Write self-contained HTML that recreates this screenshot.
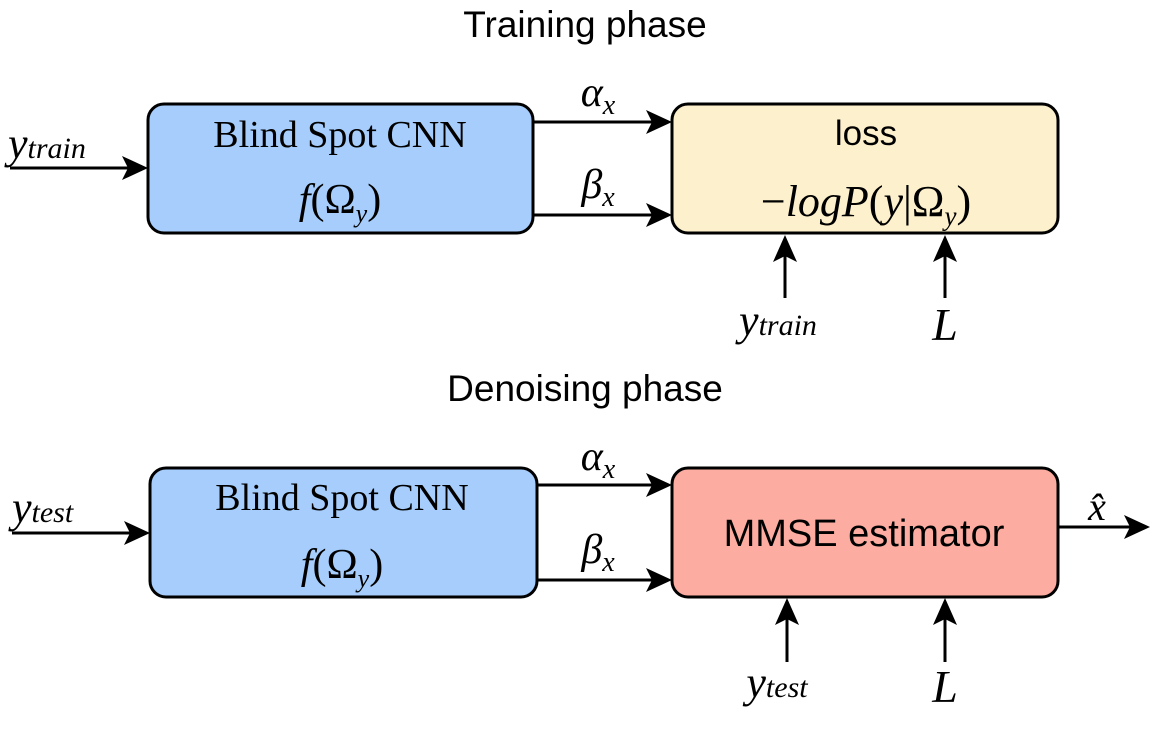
<!DOCTYPE html>
<html><head><meta charset="utf-8"><style>
html,body{margin:0;padding:0;background:#fff;}
svg{display:block}
.s{font-family:"Liberation Sans",sans-serif;}
.r{font-family:"Liberation Serif",serif;}
.m{font-family:"Liberation Serif",serif;font-style:italic;}
</style></head><body>
<svg width="1165" height="750" viewBox="0 0 1165 750" xmlns="http://www.w3.org/2000/svg">
<g stroke="#000" stroke-width="3" fill="none">
<rect x="148" y="104" width="385" height="129" rx="16" fill="#a6cdfb"/>
<rect x="672" y="104" width="386" height="129" rx="16" fill="#fdf0cc"/>
<line x1="10" y1="168" x2="130" y2="168"/>
<line x1="533" y1="122" x2="656" y2="122"/>
<line x1="533" y1="215" x2="656" y2="215"/>
<line x1="785" y1="298" x2="785" y2="250"/>
<line x1="945" y1="298" x2="945" y2="250"/>
<rect x="150" y="468" width="387" height="129" rx="16" fill="#a6cdfb"/>
<rect x="672" y="468" width="386" height="129" rx="16" fill="#fcaca0"/>
<line x1="12" y1="533" x2="134" y2="533"/>
<line x1="537" y1="485" x2="656" y2="485"/>
<line x1="537" y1="580" x2="656" y2="580"/>
<line x1="1058" y1="527" x2="1132" y2="527"/>
<line x1="787" y1="662" x2="787" y2="615"/>
<line x1="945" y1="662" x2="945" y2="615"/>
</g>
<g fill="#000">
<polygon points="148,168 122,156 128,168 122,180"/>
<polygon points="672,122 646,110 652,122 646,134"/>
<polygon points="672,215 646,203 652,215 646,227"/>
<polygon points="785,235 773,262 785,256 797,262"/>
<polygon points="945,235 933,262 945,256 957,262"/>
<polygon points="150,533 124,521 130,533 124,545"/>
<polygon points="672,485 646,473 652,485 646,497"/>
<polygon points="672,580 646,568 652,580 646,592"/>
<polygon points="1150,527 1124,515 1130,527 1124,539"/>
<polygon points="787,598 775,625 787,619 799,625"/>
<polygon points="945,598 933,625 945,619 957,625"/>
</g>
<g text-anchor="middle" fill="#000">
<text x="585" y="37" class="s" font-size="37">Training phase</text>
<text x="585" y="401" class="s" font-size="37">Denoising phase</text>
<text x="340" y="147" class="r" font-size="38">Blind Spot CNN</text>
<text x="340" y="213" class="m" font-size="42">f<tspan font-style="normal">(Ω</tspan><tspan font-size="26" dy="9">y</tspan><tspan font-style="normal" dy="-9">)</tspan></text>
<text x="866" y="145" class="s" font-size="35">loss</text>
<text x="866" y="216" class="m" font-size="44"><tspan font-style="normal">−</tspan>logP<tspan font-style="normal">(</tspan>y<tspan font-style="normal">|Ω</tspan><tspan font-size="27" dy="9">y</tspan><tspan font-style="normal" dy="-9">)</tspan></text>
<text x="598" y="106" class="m" font-size="42">α<tspan font-size="28" dy="8">x</tspan></text>
<text x="598" y="198" class="m" font-size="42">β<tspan font-size="28" dy="8">x</tspan></text>
<text x="778" y="335" class="m" font-size="44">y<tspan font-size="30">train</tspan></text>
<text x="945" y="340" class="m" font-size="46">L</text>
<text x="342" y="510" class="r" font-size="38">Blind Spot CNN</text>
<text x="342" y="578" class="m" font-size="42">f<tspan font-style="normal">(Ω</tspan><tspan font-size="26" dy="9">y</tspan><tspan font-style="normal" dy="-9">)</tspan></text>
<text x="864" y="546" class="s" font-size="38">MMSE estimator</text>
<text x="598" y="470" class="m" font-size="42">α<tspan font-size="28" dy="8">x</tspan></text>
<text x="598" y="563" class="m" font-size="42">β<tspan font-size="28" dy="8">x</tspan></text>
<text x="1097" y="520" class="m" font-size="40">x̂</text>
<text x="777" y="697" class="m" font-size="44">y<tspan font-size="30">test</tspan></text>
<text x="945" y="702" class="m" font-size="46">L</text>
</g>
<g fill="#000" class="m">
<text x="8" y="158" font-size="44">y<tspan font-size="30">train</tspan></text>
<text x="12" y="522" font-size="44">y<tspan font-size="30">test</tspan></text>
</g>
</svg>
</body></html>
